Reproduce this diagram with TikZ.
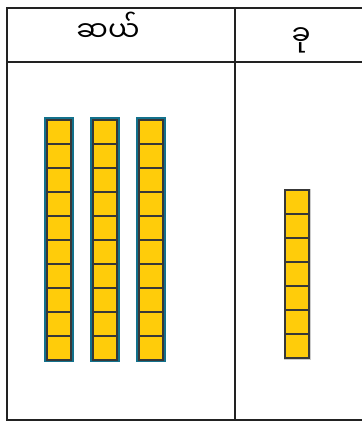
\documentclass[tikz,border=0pt]{standalone}
\usepackage{fontspec}
\newfontfamily\myanmarfont[Script=Myanmar]{Noto Sans Myanmar UI}
\definecolor{blockyellow}{HTML}{FFCC0A}
\definecolor{rodteal}{HTML}{13718C}
\definecolor{tabline}{HTML}{222222}
\tikzset{
  tabrule/.style={line width=2.4pt, draw=tabline},
  cellbox/.style={line width=1.3pt, draw=tabline!90, fill=blockyellow},
  headtext/.style={font=\myanmarfont\fontsize{28}{30}\selectfont, inner sep=0pt}
}

\begin{document}
\begin{tikzpicture}[x=1pt,y=-1pt]
	\useasboundingbox (0,0) rectangle (361,422);
	% table
	\draw[tabrule] (362,8) -- (7,8) -- (7,420) -- (362,420);
	\draw[tabrule] (7,62) -- (362,62);
	\draw[tabrule] (235,8) -- (235,420);
	\node[headtext] (tens) at (108,27) {ဆယ်};
	\node[headtext] (ones) at (301,40) {ခု};
	% tens rods
	\foreach \x in {44,90,136} {
		\fill[rodteal] (\x,117) rectangle ++(30,245);
		\foreach \k in {0,...,9}
			\draw[cellbox] (\x+3,120+24*\k) rectangle ++(24,24);
	}
	% ones
	\draw[gray!40, line width=3pt] (285,190) rectangle (309,358);
	\foreach \k in {0,...,6}
		\draw[cellbox] (285,190+24*\k) rectangle ++(24,24);
\end{tikzpicture}
\end{document}
